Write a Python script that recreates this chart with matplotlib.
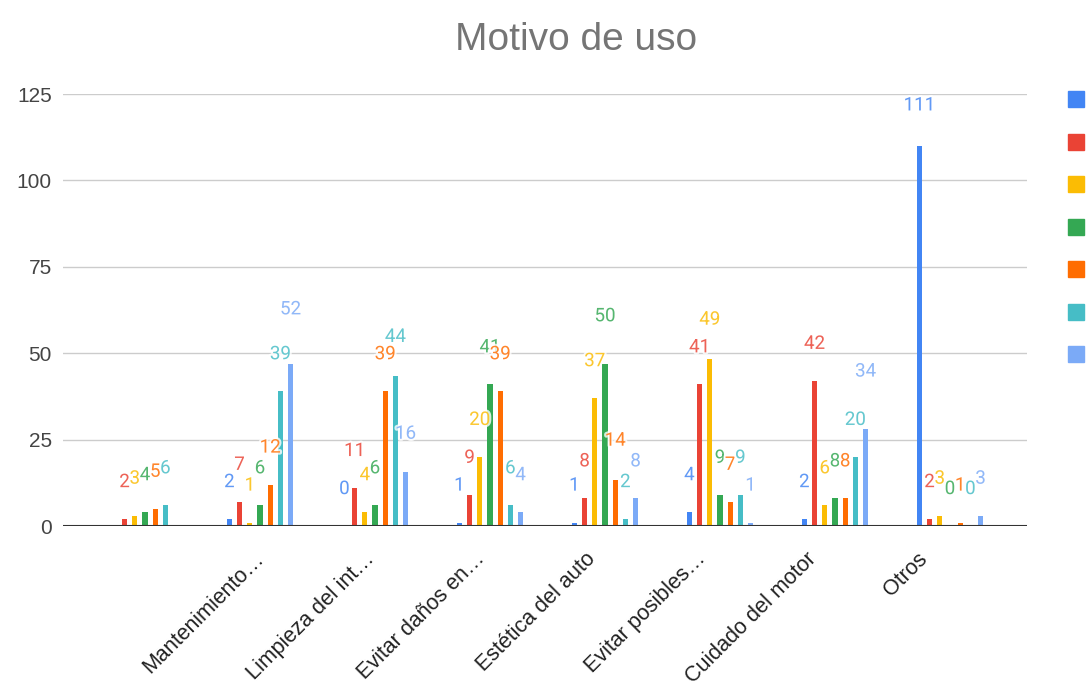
import numpy as np
import matplotlib
matplotlib.use("Agg")
import matplotlib.pyplot as plt
import matplotlib.patheffects as pe
import matplotlib.transforms as mtransforms
from matplotlib.lines import Line2D

nan = np.nan
categories = ["", "Mantenimiento…", "Limpieza del int…", "Evitar daños en…",
              "Estética del auto", "Evitar posibles…", "Cuidado del motor", "Otros"]

# bar heights as drawn
bars_s1 = [nan, 2, 0, 1, 1, 4, 2, 110]
bars_s2 = [2, 7, 11, 9, 8, 41, 42, 2]
bars_s3 = [3, 1, 4, 20, 37, 48.3, 6, 3]
bars_s4 = [4, 6, 6, 41, 47, 9, 8, 0]
bars_s5 = [5, 12, 39, 39, 13.3, 7, 8, 1]
bars_s6 = [6, 39, 43.4, 6, 2, 9, 20, 0]
bars_s7 = [nan, 47, 15.6, 4, 8, 1, 28, 3]

# data labels as shown
labels_s1 = [nan, 2, 0, 1, 1, 4, 2, 111]
labels_s2 = [2, 7, 11, 9, 8, 41, 42, 2]
labels_s3 = [3, 1, 4, 20, 37, 49, 6, 3]
labels_s4 = [4, 6, 6, 41, 50, 9, 8, 0]
labels_s5 = [5, 12, 39, 39, 14, 7, 8, 1]
labels_s6 = [6, 39, 44, 6, 2, 9, 20, 0]
labels_s7 = [nan, 52, 16, 4, 8, 1, 34, 3]

colors = ["#4285F4", "#EA4335", "#FBBC04", "#34A853", "#FF6D01", "#46BDC6", "#7BAAF7"]
yticks = [0, 25, 50, 75, 100, 125]

bar_series = [bars_s1, bars_s2, bars_s3, bars_s4, bars_s5, bars_s6, bars_s7]
label_series = [labels_s1, labels_s2, labels_s3, labels_s4, labels_s5, labels_s6, labels_s7]

W, H = 1087, 686
fig = plt.figure(figsize=(W / 100, H / 100), dpi=100)
ax = fig.add_axes([63 / W, (H - 526) / H, (1027 - 63) / W, (526 - 94) / H])

x = np.arange(len(categories))
step = 0.0887
bw = 0.045
for k, (vals, labs, c) in enumerate(zip(bar_series, label_series, colors)):
    xs = x + (k - 3) * step
    v = np.array(vals, dtype=float)
    ax.bar(xs, np.nan_to_num(v), width=bw, color=c, zorder=3)
    for xi, vi, li in zip(xs, v, labs):
        if np.isnan(li):
            continue
        ax.annotate(f"{int(li)}", (xi, li), xytext=(0, 26.6), textcoords="offset points",
                    ha="center", va="center", fontsize=13.5, family=["Roboto", "DejaVu Sans"],
                    color=c, alpha=0.8, zorder=5,
                    path_effects=[pe.withStroke(linewidth=3, foreground="white")])

ax.set_ylim(0, 125)
ax.set_xlim(-0.713, 7.67)
ax.set_yticks(yticks)
ax.set_yticklabels([str(t) for t in yticks], fontsize=15, color="#444444",
                   family=["Liberation Sans", "DejaVu Sans"])
ax.yaxis.grid(True, color="#cccccc", linewidth=1, zorder=0)
ax.axhline(0, color="#333333", linewidth=1.5, zorder=4)
ax.tick_params(axis="y", length=0, pad=8)
ax.set_xticks(x)
ax.set_xticklabels(categories, rotation=45, ha="right", va="top", rotation_mode="anchor",
                   fontsize=15.5, color="#222222", family=["Liberation Sans", "DejaVu Sans"])
ax.tick_params(axis="x", length=0, pad=16)
# the reference's rotated labels drift slightly left of their groups
for i, lab in enumerate(ax.get_xticklabels()):
    dx = (-7 - 4.4 * (i - 1)) / 100.0
    lab.set_transform(lab.get_transform() + mtransforms.ScaledTranslation(dx, 0, fig.dpi_scale_trans))
for s in ax.spines.values():
    s.set_visible(False)

fig.text(576 / W, 1 - 40 / H, "Motivo de uso", ha="center", va="center", fontsize=28,
         color="#757575", family=["Liberation Sans", "DejaVu Sans"])

handles = [Line2D([], [], marker="s", linestyle="none", markersize=12, color=c) for c in colors]
fig.legend(handles, [""] * len(colors), loc="upper left",
           bbox_to_anchor=(1065 / W, 1 - 87 / H), frameon=False, borderpad=0,
           borderaxespad=0, handletextpad=0.2, labelspacing=0.52, fontsize=20,
           handlelength=0.8)

fig.savefig("out.png", dpi=100)
